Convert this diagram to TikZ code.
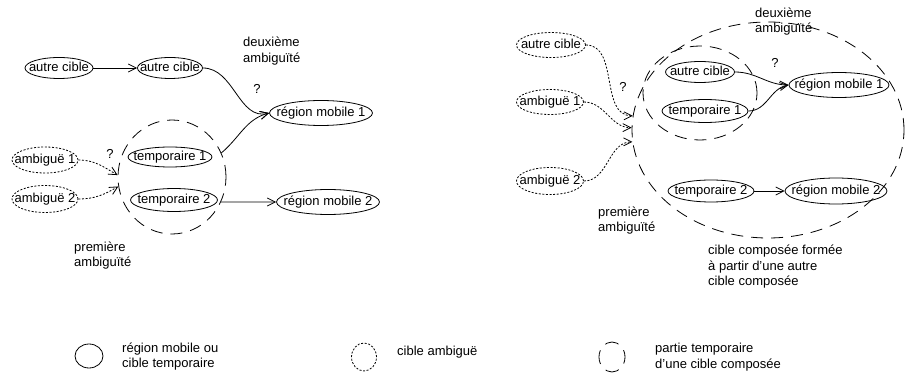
\documentclass[tikz,border=0pt]{standalone}
\usepackage{fontspec}
\setmainfont{Liberation Sans}
\usetikzlibrary{shapes.geometric,arrows.meta}
% centred label of zero width, so that the ellipse size is set by minimum width/height
\newcommand\ctxt[1]{\makebox[0pt]{#1}}
\begin{document}
\begin{tikzpicture}[x=1pt,y=1pt,
  every node/.style={font=\fontsize{13}{15.5}\selectfont},
  sz/.style 2 args={minimum width=#1,minimum height=#2},
  tgt/.style={ellipse,draw,line width=0.8pt,inner sep=0pt,text height=9pt,text depth=2.5pt},
  amb/.style={tgt,dash pattern=on 2pt off 1.6pt},
  part/.style={ellipse,draw,line width=0.8pt,inner sep=0pt,dash pattern=on 12pt off 8pt},
  lbl/.style={anchor=west,align=left,inner sep=0pt},
  link/.style={line width=0.8pt,-{Straight Barb[length=8pt,width=8pt]}},
  alink/.style={link,dash pattern=on 2pt off 1.6pt},
]
\useasboundingbox (0,0) rectangle (905,375);

% ---------- first case ----------
\node[part,sz={108pt}{114pt}] (Lc) at (172,198) {};
\node[tgt,sz={68pt}{21pt}] (La) at (59,307) {\ctxt{autre cible}};
\node[tgt,sz={65pt}{21pt}] (Lb) at (170,307) {\ctxt{autre cible}};
\node[tgt,sz={103pt}{25pt}] (Lr1) at (321,262) {\ctxt{région mobile 1}};
\node[tgt,sz={84pt}{20pt}] (Lt1) at (170,218) {\ctxt{temporaire 1}};
\node[tgt,sz={87pt}{23pt}] (Lt2) at (174,175) {\ctxt{temporaire 2}};
\node[tgt,sz={103pt}{25pt}] (Lr2) at (328,173) {\ctxt{région mobile 2}};
\node[amb,sz={66pt}{26pt}] (La1) at (45,215) {\ctxt{ambiguë 1}};
\node[amb,sz={66pt}{27pt}] (La2) at (45,176) {\ctxt{ambiguë 2}};

\node[lbl] (Ld) at (243,324) {deuxième\\ambiguïté};
\node (Lq1) at (257,286) {?};
\node (Lq2) at (110,221) {?};
\node[lbl] (Lp) at (74,119.5) {première\\ambiguïté};

\draw[link] (La) -- (Lb);
\draw[link] (Lb.east) to[out=0,in=195] (Lr1.west);
\draw[link] (Lc.26) to[out=40,in=195] (Lr1.west);
\draw[link] (Lc.-27) -- (Lr2.west);
\draw[alink] (La1.east) to[out=0,in=150] (Lc.178);
\draw[alink] (La2.east) to[out=0,in=210] (Lc.190);

% ---------- second case ----------
\node[part,sz={272pt}{216pt}] (Rbig) at (768,245) {};
\node[part,sz={114pt}{94pt}] (Rin) at (700,282) {};
\node[amb,sz={69pt}{25pt}] (Ra) at (551,330) {\ctxt{autre cible}};
\node[amb,sz={67pt}{25pt}] (Ra1) at (550,273) {\ctxt{ambiguë 1}};
\node[amb,sz={67pt}{27pt}] (Ra2) at (550,194) {\ctxt{ambiguë 2}};
\node[tgt,sz={69pt}{21pt}] (Rb) at (700,303) {\ctxt{autre cible}};
\node[tgt,sz={86pt}{23pt}] (Rt1) at (705,264) {\ctxt{temporaire 1}};
\node[tgt,sz={100pt}{25pt}] (Rr1) at (839,290) {\ctxt{région mobile 1}};
\node[tgt,sz={86pt}{22pt}] (Rt2) at (711,184) {\ctxt{temporaire 2}};
\node[tgt,sz={102pt}{26pt}] (Rr2) at (836,184) {\ctxt{région mobile 2}};

\node[lbl] (Rd) at (755,353.5) {deuxième\\ambiguïté};
\node (Rq1) at (623,288) {?};
\node (Rq2) at (775,312) {?};
\node[lbl] (Rp) at (598,154.5) {première\\ambiguïté};
\node[lbl] (Rc) at (708,108) {cible composée formée\\à partir d'une autre\\cible composée};

\draw[alink] (Ra.east) to[out=0,in=180] (Rbig.174);
\draw[alink] (Ra1.east) to[out=0,in=180] (Rbig.179);
\draw[alink] (Ra2.east) to[out=0,in=180] (Rbig.185);
\draw[link] (Rb.east) to[out=0,in=180] (Rr1.west);
\draw[link] (Rt1.east) to[out=0,in=190] (Rr1.west);
\draw[link] (Rt2) -- (Rr2);

% ---------- key ----------
\node[tgt,sz={28pt}{24pt}] (k1) at (89,19) {};
\node[lbl] (k1t) at (122,18.5) {région mobile ou\\cible temporaire};
\node[amb,sz={25pt}{28pt}] (k2) at (364,18) {};
\node[lbl] (k2t) at (397,23) {cible ambiguë};
\node[part,sz={26pt}{30pt},dash pattern=on 14pt off 8pt,dash phase=7pt] (k3) at (612,18) {};
\node[lbl] (k3t) at (655,18) {partie temporaire\\d'une cible composée};
\end{tikzpicture}
\end{document}
